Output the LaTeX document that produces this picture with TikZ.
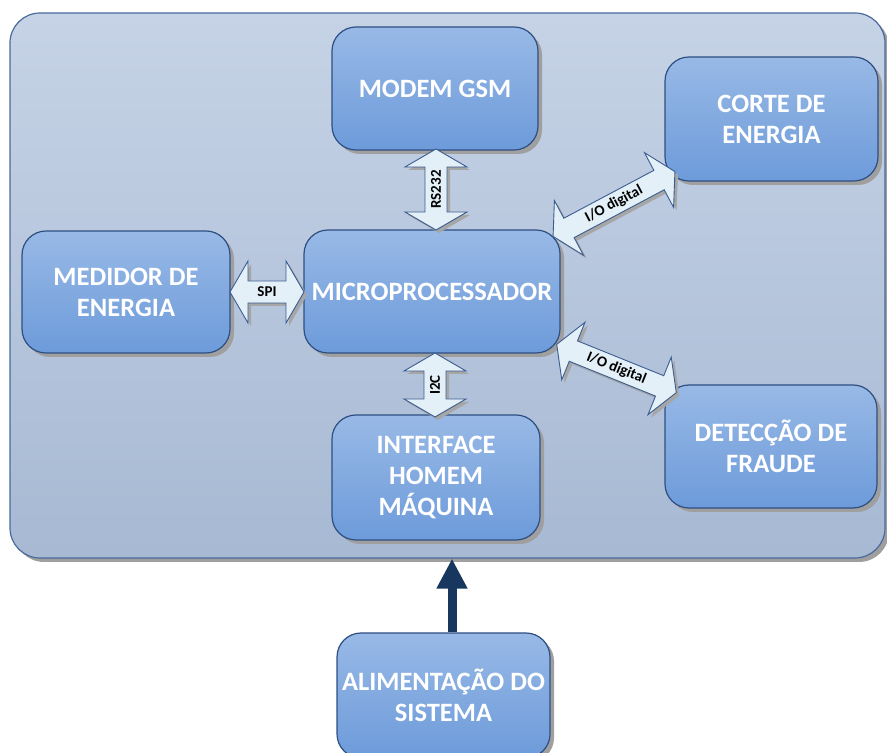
\documentclass[tikz,border=0pt]{standalone}
\usepackage{fontspec}
\setmainfont{Carlito}
\usetikzlibrary{shadows,arrows.meta}
\definecolor{contop}{HTML}{C6D3E6}
\definecolor{conbot}{HTML}{A7B9D3}
\definecolor{conline}{HTML}{4A6A9C}
\definecolor{boxtop}{HTML}{98B9E6}
\definecolor{boxbot}{HTML}{6D9BDA}
\definecolor{boxline}{HTML}{2E4F82}
\definecolor{arrfill}{HTML}{E4F0F7}
\definecolor{arrline}{HTML}{3A5C90}
\definecolor{darkarr}{HTML}{17375E}
\tikzset{
  x=1pt, y=1pt,
  container/.style={draw=conline, line width=1.2pt, rounded corners=30pt,
    top color=contop, bottom color=conbot, inner sep=0pt,
    drop shadow={shadow xshift=4pt, shadow yshift=-4pt, fill=gray!75, opacity=1}},
  blockbox/.style={draw=boxline, line width=1.2pt, rounded corners=24pt,
    top color=boxtop, bottom color=boxbot, inner sep=0pt, text=white,
    font=\bfseries\fontsize{26.5}{31}\selectfont, align=center,
    drop shadow={shadow xshift=4pt, shadow yshift=-4pt, fill=gray!75, opacity=1}},
  arrowbody/.style={fill=arrfill, draw=arrline, line width=0.9pt, line join=miter},
  arrowshadow/.style={fill=gray!70},
  arrowlabel/.style={font=\bfseries\fontsize{15}{16}\selectfont, text=black, inner sep=0pt},
  powerarrow/.style={draw=darkarr, line width=9pt, -{Triangle[width=29pt,length=30pt]}},
}
\newcommand\blockarrowpath[1]{(-#1/2,0) -- ++(18,31) -- ++(0,-20) -- (#1/2-18,11) -- ++(0,20) -- (#1/2,0) -- ++(-18,-31) -- ++(0,20) -- (-#1/2+18,-11) -- ++(0,-20) -- cycle}
\newcommand\blockarrow[6]{%
  \begin{scope}[shift={(#2+3,#3-3)},rotate=#4]\fill[arrowshadow] \blockarrowpath{#5};\end{scope}
  \begin{scope}[shift={(#2,#3)},rotate=#4]\path[arrowbody] \blockarrowpath{#5};\end{scope}
  \node[arrowlabel, rotate=#4] (#1) at (#2,#3) {#6};}
\begin{document}
\begin{tikzpicture}
\useasboundingbox (0,0) rectangle (887,753);
\clip (0,0) rectangle (887,753);
\node[container, minimum width=875pt, minimum height=545pt] (cont) at (447.5,467.5) {};
\node[blockbox, minimum width=206pt, minimum height=123pt] (modem) at (435,664.5) {MODEM GSM};
\node[blockbox, minimum width=213pt, minimum height=124pt] (corte) at (771.5,634) {CORTE DE\\ENERGIA};
\node[blockbox, minimum width=208pt, minimum height=122pt] (medidor) at (126,461) {MEDIDOR DE\\ENERGIA};
\node[blockbox, minimum width=256pt, minimum height=123pt] (micro) at (432,461.5) {MICROPROCESSADOR};
\node[blockbox, minimum width=208pt, minimum height=125pt] (ihm) at (436,275.5) {INTERFACE\\HOMEM\\MÁQUINA};
\node[blockbox, minimum width=212pt, minimum height=123pt] (fraude) at (771,306.5) {DETECÇÃO DE\\FRAUDE};
\node[blockbox, minimum width=213pt, minimum height=125pt] (alim) at (443.5,57.5) {ALIMENTAÇÃO DO\\SISTEMA};
\blockarrow{rs}{436}{563.5}{90}{81}{RS232}
\blockarrow{i2c}{435}{368}{90}{64}{I2C}
\blockarrow{spi}{267}{461}{0}{74}{SPI}
\blockarrow{io1}{614}{549}{28}{138}{I/O digital}
\blockarrow{io2}{616.5}{384.5}{-22}{129}{I/O digital}
\draw[powerarrow] ([xshift=8.5pt]alim.north) -- ([xshift=8.5pt]alim.north |- cont.south);
\end{tikzpicture}
\end{document}
